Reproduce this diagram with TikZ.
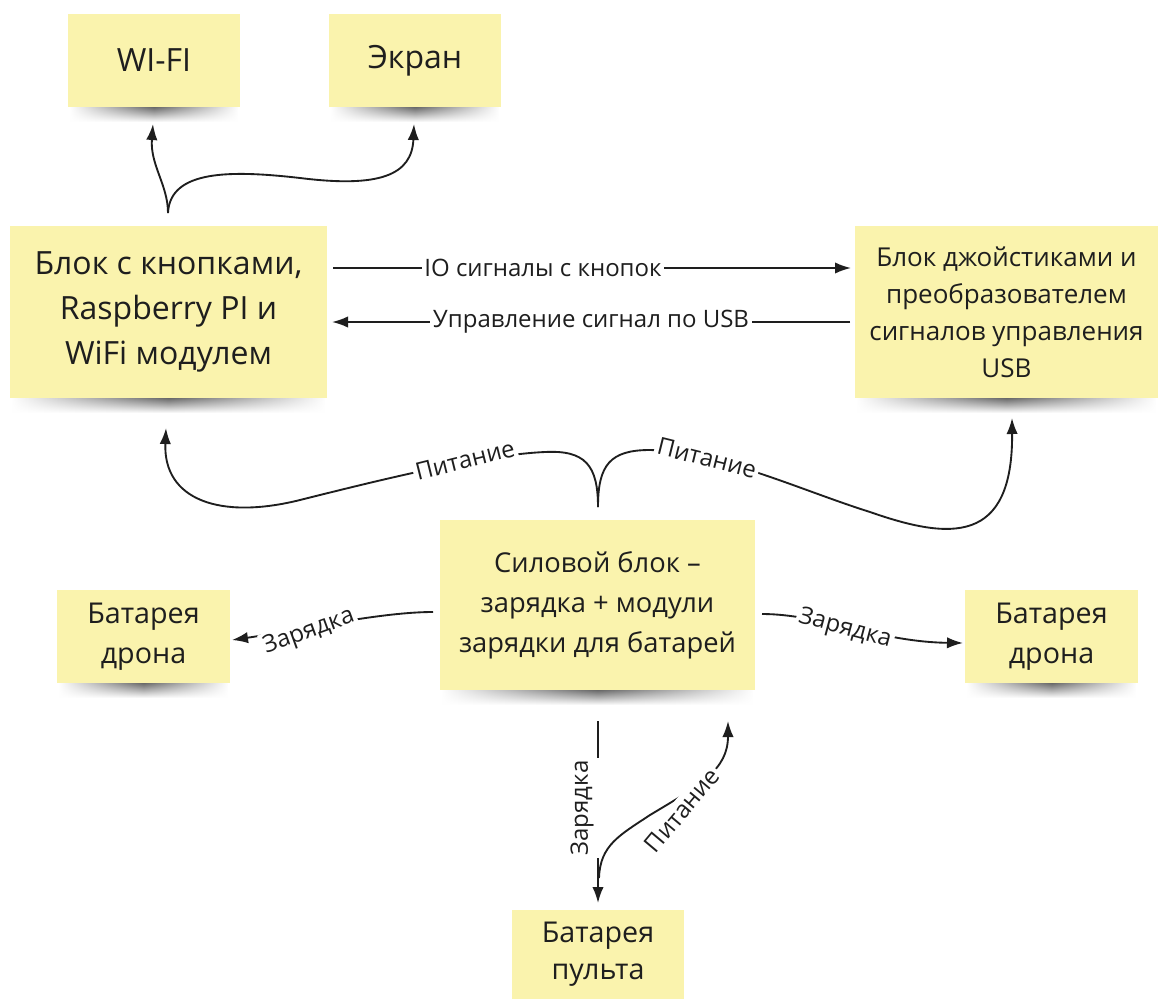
\documentclass[tikz,border=0pt]{standalone}
\usepackage{fontspec}
\setmainfont{Open Sans}
\usetikzlibrary{arrows.meta,fadings}
\definecolor{notefill}{HTML}{FAF3AD}
\definecolor{ink}{HTML}{1E1E1E}
\tikzfading[name=fadeh, left color=transparent!100, right color=transparent!100, middle color=transparent!0]
\begin{document}
\begin{tikzpicture}[x=0.75pt,y=-0.75pt,
  note/.style={fill=notefill, draw=none, align=center, text=ink, inner sep=0pt},
  bigtxt/.style={font=\fontsize{24}{33.75}\selectfont},
  joytxt/.style={font=\fontsize{19.5}{27.75}\selectfont},
  pwrtxt/.style={font=\fontsize{20.5}{30}\selectfont},
  battxt/.style={font=\fontsize{21.5}{30}\selectfont},
  conn/.style={draw=ink, line width=1.4pt, -{Latex[length=12pt,width=8.5pt]}},
  lbl/.style={fill=white, inner sep=2pt, font=\fontsize{18}{21}\selectfont, text=ink},
]
\useasboundingbox[fill=white] (0,0) rectangle (1160,999);

% shadows
\foreach \l/\r/\b in {68/240/107, 329/501/107, 10/327/398, 855/1158/398, 440/755/690, 57/230/683, 965/1138/683}{
  \shade[top color=black!75, bottom color=white, path fading=fadeh] (\l+2,\b-4) rectangle (\r-2,\b+15);
}

% notes
\node[note, bigtxt, minimum width=129pt, minimum height=69.75pt] (wifi) at (154,60.5) {WI-FI};
\node[note, bigtxt, minimum width=129pt, minimum height=69.75pt] (screen) at (415,60.5) {Экран};
\node[note, bigtxt, minimum width=237.75pt, minimum height=129pt] (rpi) at (168.5,312) {Блок с кнопками,\\Raspberry PI и\\WiFi модулем};
\node[note, joytxt, minimum width=227.25pt, minimum height=129pt] (joy) at (1006.5,312) {Блок джойстиками и\\преобразователем\\сигналов управления\\USB};
\node[note, pwrtxt, minimum width=236.25pt, minimum height=127.5pt] (power) at (597.5,605) {Силовой блок –\\зарядка + модули\\зарядки для батарей};
\node[note, battxt, minimum width=129.75pt, minimum height=69.75pt] (batL) at (143.5,636.5) {Батарея\\дрона};
\node[note, battxt, minimum width=129.75pt, minimum height=69.75pt] (batR) at (1051.5,636.5) {Батарея\\дрона};
\node[note, font=\fontsize{21.5}{28}\selectfont, minimum width=129pt, minimum height=66.75pt] (batP) at (598,954.5) {Батарея\\пульта};

% connector end points
\coordinate (rpiT) at (168,213);
\coordinate (wifiB) at (153,124);
\coordinate (scrB) at (414,124);
\coordinate (ioS) at (333,268);
\coordinate (ioE) at (851,268);
\coordinate (usbS) at (850,322);
\coordinate (usbE) at (332,322);
\coordinate (pwrT) at (598,507);
\coordinate (rpiP) at (166,428);
\coordinate (joyP) at (1012,418);
\coordinate (pwrL) at (433,612);
\coordinate (batLa) at (232,640);
\coordinate (pwrR) at (762,614);
\coordinate (batRa) at (963,643);
\coordinate (pwrB) at (598,721);
\coordinate (batPa) at (598,903);
\coordinate (pjoin) at (599,878);
\coordinate (pwrBa) at (728,721);

% rpi -> wifi / screen
\draw[conn] (rpiT) .. controls (168,185) and (150,165) .. (wifiB);
\draw[conn] (rpiT) .. controls (170,170) and (230,170) .. (300,178) .. controls (380,188) and (412,175) .. (scrB);

% signals
\draw[conn] (ioS) -- (ioE);
\node[lbl] (ioL) at (543,268) {IO сигналы с кнопок};
\draw[conn] (usbS) -- (usbE);
\node[lbl] (usbL) at (591,322) {Управление сигнал по USB};

% power up
\draw[conn] (pwrT) .. controls (598,465) and (585,450) .. (545,452) .. controls (480,455) and (380,480) .. (300,500) .. controls (220,520) and (163,500) .. (rpiP);
\draw[conn] (pwrT) .. controls (598,465) and (610,450) .. (650,450) .. controls (720,452) and (800,490) .. (870,512) .. controls (950,540) and (1013,545) .. (joyP);
\node[lbl, rotate=14] (pl1) at (465,460) {Питание};
\node[lbl, rotate=-14] (pl2) at (707,458) {Питание};

% charging
\draw[conn] (pwrL) .. controls (380,612) and (300,630) .. (batLa);
\node[lbl, rotate=20] (zl1) at (309,632) {Зарядка};
\draw[conn] (pwrR) .. controls (820,614) and (880,642) .. (batRa);
\node[lbl, rotate=-15] (zl2) at (845,629) {Зарядка};

\draw[conn] (pwrB) -- (batPa);
\node[lbl, rotate=90, inner ysep=9pt] (zl3) at (582,808) {Зарядка};
\draw[conn] (pjoin) .. controls (600,845) and (620,835) .. (650,815) .. controls (700,785) and (728,770) .. (pwrBa);
\node[lbl, rotate=50] (pl3) at (682,810) {Питание};
\end{tikzpicture}
\end{document}
